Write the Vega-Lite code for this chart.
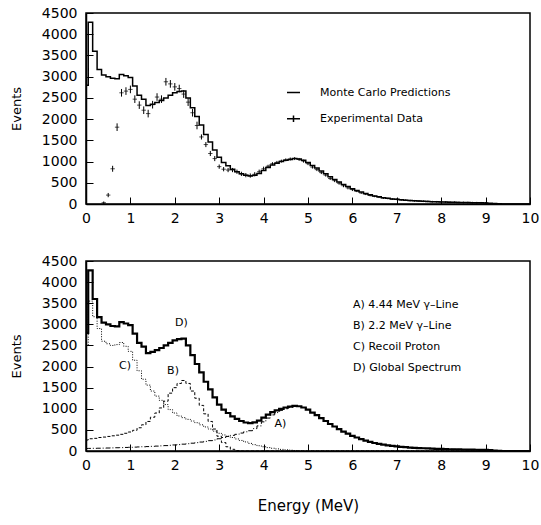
{
  "$schema": "https://vega.github.io/schema/vega-lite/v6.json",
  "background": "white",
  "padding": {"left": 9, "top": 5, "right": 0, "bottom": 2},
  "spacing": 27,
  "resolve": {"legend": {"color": "independent", "strokeDash": "independent"}},
  "config": {
    "font": "DejaVu Sans",
    "view": {"stroke": "black", "strokeWidth": 1.5},
    "axis": {
      "grid": false, "domainColor": "black", "domainWidth": 1.5,
      "tickColor": "black", "tickSize": -7, "tickWidth": 1,
      "labelFont": "DejaVu Sans", "labelFontSize": 14, "labelColor": "black", "labelOverlap": false, "labelFlush": false,
      "titleFont": "DejaVu Sans", "titleFontWeight": "normal", "titleColor": "black"
    },
    "axisY": {"values": [0,500,1000,1500,2000,2500,3000,3500,4000,4500], "tickCount": 10, "format": "d", "labelOverlap": false, "labelFlush": false, "labelPadding": 16, "titleFontSize": 13, "titlePadding": 18},
    "axisX": {"values": [0,1,2,3,4,5,6,7,8,9,10], "tickCount": 10, "format": "d", "labelOverlap": false, "labelFlush": false, "labelPadding": 14, "titleFontSize": 15, "titlePadding": 26},
    "legend": {"labelFont": "DejaVu Sans", "labelColor": "black", "labelFontSize": 11}
  },
  "datasets": {
    "mc": [
      {"E":0,"D":2800,"A":60,"B":260,"C":2500},
      {"E":0.05,"D":4280,"A":62,"B":290,"C":3550},
      {"E":0.15,"D":3600,"A":64,"B":300,"C":3180},
      {"E":0.25,"D":3170,"A":66,"B":320,"C":2900},
      {"E":0.35,"D":3040,"A":68,"B":330,"C":2600},
      {"E":0.45,"D":3000,"A":71,"B":345,"C":2540},
      {"E":0.55,"D":2960,"A":74,"B":360,"C":2500},
      {"E":0.65,"D":2950,"A":77,"B":375,"C":2520},
      {"E":0.75,"D":3050,"A":80,"B":395,"C":2570},
      {"E":0.85,"D":3020,"A":84,"B":420,"C":2480},
      {"E":0.95,"D":2980,"A":88,"B":450,"C":2360},
      {"E":1.05,"D":2780,"A":92,"B":490,"C":2150},
      {"E":1.15,"D":2560,"A":96,"B":550,"C":1900},
      {"E":1.25,"D":2470,"A":100,"B":620,"C":1700},
      {"E":1.35,"D":2320,"A":105,"B":700,"C":1560},
      {"E":1.45,"D":2350,"A":110,"B":800,"C":1420},
      {"E":1.55,"D":2390,"A":116,"B":900,"C":1300},
      {"E":1.65,"D":2440,"A":122,"B":1020,"C":1200},
      {"E":1.75,"D":2500,"A":128,"B":1180,"C":1100},
      {"E":1.85,"D":2560,"A":135,"B":1370,"C":980},
      {"E":1.95,"D":2620,"A":143,"B":1500,"C":900},
      {"E":2.05,"D":2650,"A":152,"B":1600,"C":830},
      {"E":2.15,"D":2660,"A":162,"B":1670,"C":790},
      {"E":2.25,"D":2500,"A":173,"B":1600,"C":750},
      {"E":2.35,"D":2270,"A":185,"B":1420,"C":710},
      {"E":2.45,"D":2060,"A":198,"B":1250,"C":670},
      {"E":2.55,"D":1860,"A":212,"B":1080,"C":620},
      {"E":2.65,"D":1640,"A":228,"B":880,"C":570},
      {"E":2.75,"D":1460,"A":245,"B":700,"C":520},
      {"E":2.85,"D":1270,"A":262,"B":520,"C":470},
      {"E":2.95,"D":1100,"A":290,"B":350,"C":420},
      {"E":3.05,"D":980,"A":320,"B":200,"C":380},
      {"E":3.15,"D":900,"A":345,"B":100,"C":350},
      {"E":3.25,"D":820,"A":370,"B":40,"C":320},
      {"E":3.35,"D":760,"A":395,"B":10,"C":285},
      {"E":3.45,"D":710,"A":425,"B":0,"C":250},
      {"E":3.55,"D":675,"A":455,"B":0,"C":215},
      {"E":3.65,"D":660,"A":480,"B":0,"C":180},
      {"E":3.75,"D":680,"A":530,"B":0,"C":150},
      {"E":3.85,"D":720,"A":595,"B":0,"C":125},
      {"E":3.95,"D":790,"A":690,"B":0,"C":100},
      {"E":4.05,"D":860,"A":780,"B":0,"C":80},
      {"E":4.15,"D":920,"A":855,"B":0,"C":65},
      {"E":4.25,"D":960,"A":910,"B":0,"C":50},
      {"E":4.35,"D":1000,"A":962,"B":0,"C":38},
      {"E":4.45,"D":1030,"A":1002,"B":0,"C":28},
      {"E":4.55,"D":1050,"A":1030,"B":0,"C":20},
      {"E":4.65,"D":1070,"A":1058,"B":0,"C":12},
      {"E":4.75,"D":1060,"A":1054,"B":0,"C":6},
      {"E":4.85,"D":1030,"A":1030,"B":0,"C":0},
      {"E":4.95,"D":980,"A":980,"B":0,"C":0},
      {"E":5.05,"D":910,"A":910,"B":0,"C":0},
      {"E":5.15,"D":850,"A":850,"B":0,"C":0},
      {"E":5.25,"D":780,"A":780,"B":0,"C":0},
      {"E":5.35,"D":710,"A":710,"B":0,"C":0},
      {"E":5.45,"D":640,"A":640,"B":0,"C":0},
      {"E":5.55,"D":580,"A":580,"B":0,"C":0},
      {"E":5.65,"D":520,"A":520,"B":0,"C":0},
      {"E":5.75,"D":460,"A":460,"B":0,"C":0},
      {"E":5.85,"D":410,"A":410,"B":0,"C":0},
      {"E":5.95,"D":360,"A":360,"B":0,"C":0},
      {"E":6.05,"D":320,"A":320,"B":0,"C":0},
      {"E":6.15,"D":280,"A":280,"B":0,"C":0},
      {"E":6.25,"D":245,"A":245,"B":0,"C":0},
      {"E":6.35,"D":215,"A":215,"B":0,"C":0},
      {"E":6.45,"D":190,"A":190,"B":0,"C":0},
      {"E":6.55,"D":170,"A":170,"B":0,"C":0},
      {"E":6.65,"D":150,"A":150,"B":0,"C":0},
      {"E":6.75,"D":135,"A":135,"B":0,"C":0},
      {"E":6.85,"D":120,"A":120,"B":0,"C":0},
      {"E":6.95,"D":110,"A":110,"B":0,"C":0},
      {"E":7.05,"D":100,"A":100,"B":0,"C":0},
      {"E":7.15,"D":90,"A":90,"B":0,"C":0},
      {"E":7.25,"D":82,"A":82,"B":0,"C":0},
      {"E":7.35,"D":75,"A":75,"B":0,"C":0},
      {"E":7.45,"D":70,"A":70,"B":0,"C":0},
      {"E":7.55,"D":65,"A":65,"B":0,"C":0},
      {"E":7.65,"D":60,"A":60,"B":0,"C":0},
      {"E":7.75,"D":55,"A":55,"B":0,"C":0},
      {"E":7.85,"D":52,"A":52,"B":0,"C":0},
      {"E":7.95,"D":48,"A":48,"B":0,"C":0},
      {"E":8.05,"D":45,"A":45,"B":0,"C":0},
      {"E":8.15,"D":42,"A":42,"B":0,"C":0},
      {"E":8.25,"D":40,"A":40,"B":0,"C":0},
      {"E":8.35,"D":38,"A":38,"B":0,"C":0},
      {"E":8.45,"D":36,"A":36,"B":0,"C":0},
      {"E":8.55,"D":34,"A":34,"B":0,"C":0},
      {"E":8.65,"D":32,"A":32,"B":0,"C":0},
      {"E":8.75,"D":30,"A":30,"B":0,"C":0},
      {"E":8.85,"D":28,"A":28,"B":0,"C":0},
      {"E":8.95,"D":25,"A":25,"B":0,"C":0},
      {"E":9.05,"D":20,"A":20,"B":0,"C":0},
      {"E":9.15,"D":12,"A":12,"B":0,"C":0},
      {"E":9.25,"D":5,"A":5,"B":0,"C":0},
      {"E":9.35,"D":0,"A":0,"B":0,"C":0},
      {"E":9.45,"D":0,"A":0,"B":0,"C":0},
      {"E":9.55,"D":0,"A":0,"B":0,"C":0},
      {"E":9.65,"D":0,"A":0,"B":0,"C":0},
      {"E":9.75,"D":0,"A":0,"B":0,"C":0},
      {"E":9.85,"D":0,"A":0,"B":0,"C":0},
      {"E":9.95,"D":0,"A":0,"B":0,"C":0},
      {"E":10,"D":0,"A":0,"B":0,"C":0}
    ],
    "exp": [
      {"E":0.4,"N":30,"lo":0,"hi":60},
      {"E":0.5,"N":210,"lo":160,"hi":260},
      {"E":0.6,"N":830,"lo":760,"hi":900},
      {"E":0.7,"N":1810,"lo":1720,"hi":1900},
      {"E":0.8,"N":2620,"lo":2530,"hi":2710},
      {"E":0.9,"N":2660,"lo":2570,"hi":2750},
      {"E":1.0,"N":2700,"lo":2610,"hi":2790},
      {"E":1.1,"N":2470,"lo":2380,"hi":2560},
      {"E":1.2,"N":2330,"lo":2240,"hi":2420},
      {"E":1.3,"N":2210,"lo":2120,"hi":2300},
      {"E":1.4,"N":2130,"lo":2040,"hi":2220},
      {"E":1.5,"N":2340,"lo":2250,"hi":2430},
      {"E":1.6,"N":2520,"lo":2430,"hi":2610},
      {"E":1.7,"N":2470,"lo":2380,"hi":2560},
      {"E":1.8,"N":2880,"lo":2790,"hi":2970},
      {"E":1.9,"N":2830,"lo":2740,"hi":2920},
      {"E":2.0,"N":2760,"lo":2670,"hi":2850},
      {"E":2.1,"N":2720,"lo":2630,"hi":2810},
      {"E":2.2,"N":2590,"lo":2500,"hi":2680},
      {"E":2.3,"N":2400,"lo":2310,"hi":2490},
      {"E":2.4,"N":2150,"lo":2060,"hi":2240},
      {"E":2.5,"N":1850,"lo":1760,"hi":1940},
      {"E":2.6,"N":1580,"lo":1520,"hi":1640},
      {"E":2.7,"N":1400,"lo":1340,"hi":1460},
      {"E":2.8,"N":1190,"lo":1130,"hi":1250},
      {"E":2.9,"N":1070,"lo":1010,"hi":1130},
      {"E":3.0,"N":880,"lo":830,"hi":930},
      {"E":3.1,"N":820,"lo":770,"hi":870},
      {"E":3.2,"N":800,"lo":750,"hi":850},
      {"E":3.3,"N":800,"lo":750,"hi":850},
      {"E":3.4,"N":760,"lo":710,"hi":810},
      {"E":3.5,"N":710,"lo":660,"hi":760},
      {"E":3.6,"N":680,"lo":630,"hi":730},
      {"E":3.7,"N":670,"lo":620,"hi":720},
      {"E":3.8,"N":700,"lo":650,"hi":750},
      {"E":3.9,"N":760,"lo":710,"hi":810},
      {"E":4.0,"N":830,"lo":780,"hi":880},
      {"E":4.1,"N":890,"lo":855,"hi":925},
      {"E":4.2,"N":950,"lo":915,"hi":985},
      {"E":4.3,"N":980,"lo":945,"hi":1015},
      {"E":4.4,"N":1010,"lo":975,"hi":1045},
      {"E":4.5,"N":1040,"lo":1005,"hi":1075},
      {"E":4.6,"N":1060,"lo":1025,"hi":1095},
      {"E":4.7,"N":1070,"lo":1035,"hi":1105},
      {"E":4.8,"N":1050,"lo":1015,"hi":1085},
      {"E":4.9,"N":1010,"lo":975,"hi":1045},
      {"E":5.0,"N":950,"lo":915,"hi":985},
      {"E":5.1,"N":870,"lo":835,"hi":905},
      {"E":5.2,"N":810,"lo":775,"hi":845},
      {"E":5.3,"N":740,"lo":705,"hi":775},
      {"E":5.4,"N":680,"lo":645,"hi":715},
      {"E":5.5,"N":600,"lo":565,"hi":635},
      {"E":5.6,"N":550,"lo":515,"hi":585},
      {"E":5.7,"N":490,"lo":455,"hi":525},
      {"E":5.8,"N":430,"lo":395,"hi":465},
      {"E":5.9,"N":380,"lo":345,"hi":415},
      {"E":6.0,"N":340,"lo":305,"hi":375},
      {"E":6.1,"N":300,"lo":280,"hi":320},
      {"E":6.2,"N":260,"lo":240,"hi":280},
      {"E":6.3,"N":230,"lo":210,"hi":250},
      {"E":6.4,"N":200,"lo":180,"hi":220},
      {"E":6.5,"N":180,"lo":160,"hi":200},
      {"E":6.6,"N":160,"lo":140,"hi":180},
      {"E":6.7,"N":140,"lo":120,"hi":160},
      {"E":6.8,"N":130,"lo":110,"hi":150},
      {"E":6.9,"N":115,"lo":95,"hi":135},
      {"E":7.0,"N":110,"lo":90,"hi":130},
      {"E":7.1,"N":95,"lo":75,"hi":115},
      {"E":7.2,"N":90,"lo":70,"hi":110},
      {"E":7.3,"N":80,"lo":60,"hi":100},
      {"E":7.4,"N":75,"lo":55,"hi":95},
      {"E":7.5,"N":70,"lo":50,"hi":90},
      {"E":7.6,"N":65,"lo":45,"hi":85},
      {"E":7.7,"N":62,"lo":42,"hi":82},
      {"E":7.8,"N":55,"lo":35,"hi":75},
      {"E":7.9,"N":52,"lo":32,"hi":72},
      {"E":8.0,"N":50,"lo":30,"hi":70},
      {"E":8.1,"N":45,"lo":25,"hi":65},
      {"E":8.2,"N":42,"lo":22,"hi":62},
      {"E":8.3,"N":40,"lo":20,"hi":60},
      {"E":8.4,"N":38,"lo":18,"hi":58},
      {"E":8.5,"N":35,"lo":15,"hi":55},
      {"E":8.6,"N":33,"lo":13,"hi":53},
      {"E":8.7,"N":32,"lo":12,"hi":52},
      {"E":8.8,"N":30,"lo":10,"hi":50},
      {"E":8.9,"N":28,"lo":8,"hi":48},
      {"E":9.0,"N":25,"lo":5,"hi":45}
    ],
    "tags": [
      {"tag":"A)","E":4.38,"N":520},
      {"tag":"B)","E":1.96,"N":1775},
      {"tag":"C)","E":0.88,"N":1890},
      {"tag":"D)","E":2.15,"N":2920}
    ]
  },
  "vconcat": [
    {
      "width": 444,
      "height": 191,
      "encoding": {
        "x": {"field": "E", "type": "quantitative", "title": null, "scale": {"domain": [0, 10], "nice": false}}
      },
      "layer": [
        {
          "data": {"name": "mc"},
          "mark": {"type": "line", "interpolate": "step-after", "strokeWidth": 1.5},
          "encoding": {
            "y": {"field": "D", "type": "quantitative", "title": "Events", "scale": {"domain": [0, 4500], "nice": false}},
            "color": {"datum": "Monte Carlo Predictions",
                      "scale": {"domain": ["Monte Carlo Predictions", "Experimental Data"], "range": ["black", "black"]},
                      "legend": {"orient": "none", "legendX": 200, "legendY": 72, "title": null,
                                 "symbolType": "stroke", "symbolSize": 169, "symbolStrokeWidth": 1.5,
                                 "labelOffset": 19, "rowPadding": 13.2, "labelFontSize": 11,
                                 "encode": {"symbols": {"update": {
                                   "shape": {"signal": "datum.value === 'Experimental Data' ? 'M-1,0H1M0,-0.5V0.5' : 'M-1,0H1'"},
                                   "stroke": {"value": "black"},
                                   "fill": {"value": "transparent"}}}}}}
          }
        },
        {
          "data": {"name": "exp"},
          "mark": {"type": "rule", "strokeWidth": 1},
          "encoding": {
            "y": {"field": "lo", "type": "quantitative", "title": "Events", "scale": {"domain": [0, 4500], "nice": false}},
            "y2": {"field": "hi"},
            "color": {"datum": "Experimental Data"}
          }
        },
        {
          "data": {"name": "exp"},
          "mark": {"type": "tick", "orient": "horizontal", "size": 4.4, "thickness": 1},
          "encoding": {
            "y": {"field": "N", "type": "quantitative", "title": "Events", "scale": {"domain": [0, 4500], "nice": false}},
            "color": {"datum": "Experimental Data"}
          }
        }
      ]
    },
    {
      "width": 444,
      "height": 190,
      "encoding": {
        "x": {"field": "E", "type": "quantitative", "title": "Energy (MeV)", "scale": {"domain": [0, 10], "nice": false}}
      },
      "layer": [
        {
          "data": {"name": "mc"},
          "mark": {"type": "line", "interpolate": "step-after", "strokeWidth": 1, "color": "black"},
          "encoding": {
            "y": {"field": "A", "type": "quantitative", "title": "Events", "scale": {"domain": [0, 4500], "nice": false}},
            "strokeDash": {"datum": "A",
                           "scale": {"domain": ["A", "B", "C", "D"], "range": [[5,2,1,2],[3,2],[1,1.5],[1,0]]},
                           "legend": {"orient": "none", "legendX": 256, "legendY": 38, "title": null,
                                      "symbolSize": 0, "symbolOpacity": 0, "symbolStrokeWidth": 0,
                                      "labelOffset": 0, "rowPadding": 9, "labelFontSize": 11,
                                      "labelExpr": "datum.value == 'A' ? 'A) 4.44 MeV γ–Line' : datum.value == 'B' ? 'B) 2.2 MeV γ–Line' : datum.value == 'C' ? 'C) Recoil Proton' : 'D) Global Spectrum'"}}
          }
        },
        {
          "data": {"name": "mc"},
          "mark": {"type": "line", "interpolate": "step-after", "strokeWidth": 1, "color": "black"},
          "encoding": {
            "y": {"field": "B", "type": "quantitative", "title": "Events", "scale": {"domain": [0, 4500], "nice": false}},
            "strokeDash": {"datum": "B"}
          }
        },
        {
          "data": {"name": "mc"},
          "mark": {"type": "line", "interpolate": "step-after", "strokeWidth": 1, "color": "black"},
          "encoding": {
            "y": {"field": "C", "type": "quantitative", "title": "Events", "scale": {"domain": [0, 4500], "nice": false}},
            "strokeDash": {"datum": "C"}
          }
        },
        {
          "data": {"name": "mc"},
          "mark": {"type": "line", "interpolate": "step-after", "strokeWidth": 2.2, "color": "black"},
          "encoding": {
            "y": {"field": "D", "type": "quantitative", "title": "Events", "scale": {"domain": [0, 4500], "nice": false}},
            "strokeDash": {"datum": "D"}
          }
        },
        {
          "data": {"name": "tags"},
          "mark": {"type": "text", "fontSize": 11, "color": "black", "align": "center", "baseline": "bottom"},
          "encoding": {
            "y": {"field": "N", "type": "quantitative", "title": "Events", "scale": {"domain": [0, 4500], "nice": false}},
            "text": {"field": "tag"}
          }
        }
      ]
    }
  ]
}
